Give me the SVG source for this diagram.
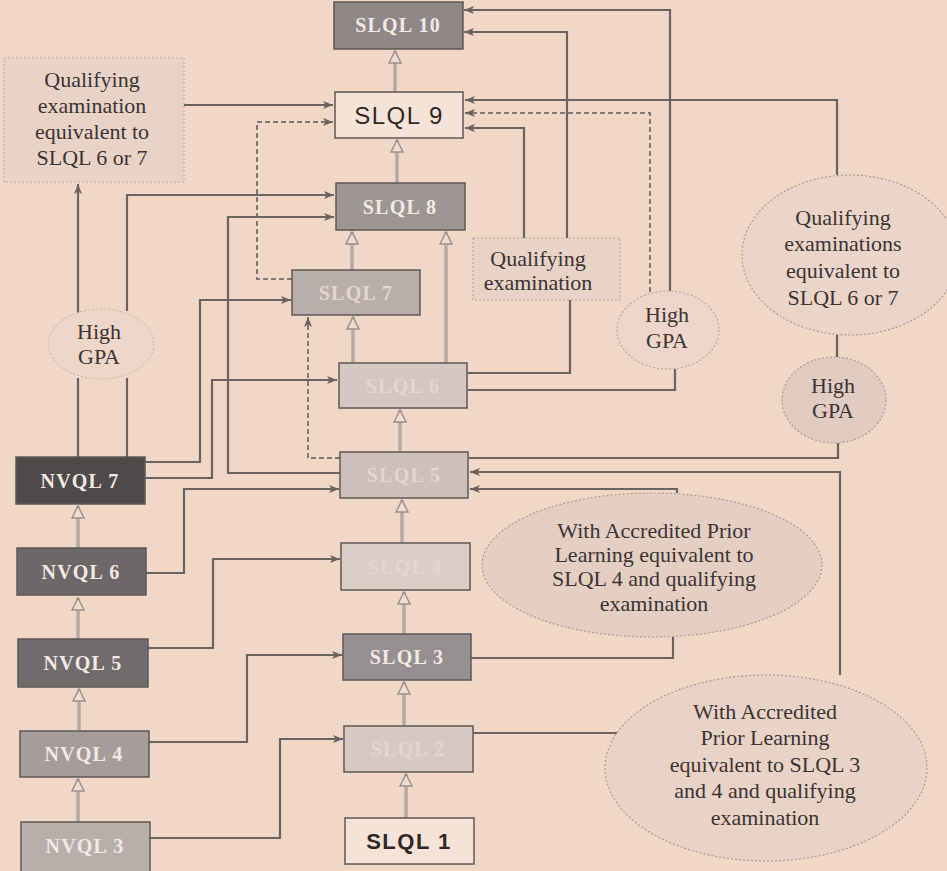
<svg xmlns="http://www.w3.org/2000/svg" width="947" height="871" viewBox="0 0 947 871">
<defs>
<style>
.ln{fill:none;stroke:#6a6361;stroke-width:2.2}
.dl{fill:none;stroke:#807876;stroke-width:2;stroke-dasharray:5 3}
.up{fill:none;stroke:#b5aaa5;stroke-width:3.5}
.box{stroke:#5d5856;stroke-width:1.5}
.lbl{font-family:"Liberation Serif",serif;font-weight:bold;font-size:20px;letter-spacing:1.2px;text-anchor:middle;fill:#f3e9e3}
.faint{font-family:"Liberation Serif",serif;font-weight:bold;font-size:20px;letter-spacing:1.2px;text-anchor:middle;fill:#e3d6cf}
.t{font-family:"Liberation Serif",serif;font-size:22px;text-anchor:middle;fill:#3b3434}
.sans{font-family:"Liberation Sans",Arial,sans-serif;text-anchor:middle;fill:#2e2828}
.ell{stroke:#a99c96;stroke-width:1.2;stroke-dasharray:2 2}
</style>
<marker id="ah" viewBox="0 0 10 8" refX="10" refY="4" markerWidth="11" markerHeight="8" markerUnits="userSpaceOnUse" orient="auto">
<path d="M0,0 L10,4 L0,8 L2.5,4 Z" fill="#6a6361"/>
</marker>
<marker id="hol" viewBox="0 0 14 14" refX="13" refY="7" markerWidth="14" markerHeight="14" markerUnits="userSpaceOnUse" orient="auto">
<path d="M1,1 L13,7 L1,13 Z" fill="#efdbcf" stroke="#9c928e" stroke-width="1.5"/>
</marker>
</defs>
<rect width="947" height="871" fill="#f1d7c6"/>

<g id="connectors">
<!-- vertical progression arrows -->
<path class="up" d="M395,92 V51" marker-end="url(#hol)"/>
<path class="up" d="M397,183 V140" marker-end="url(#hol)"/>
<path class="up" d="M352,270 V232" marker-end="url(#hol)"/>
<path class="up" d="M353,363 V317" marker-end="url(#hol)"/>
<path class="up" d="M446,363 V232" marker-end="url(#hol)"/>
<path class="up" d="M400,452 V410" marker-end="url(#hol)"/>
<path class="up" d="M402,543 V500" marker-end="url(#hol)"/>
<path class="up" d="M404,634 V592" marker-end="url(#hol)"/>
<path class="up" d="M404,726 V682" marker-end="url(#hol)"/>
<path class="up" d="M406,818 V774" marker-end="url(#hol)"/>
<path class="up" d="M78,822 V779" marker-end="url(#hol)"/>
<path class="up" d="M79,731 V689" marker-end="url(#hol)"/>
<path class="up" d="M78,639 V598" marker-end="url(#hol)"/>
<path class="up" d="M78,548 V506" marker-end="url(#hol)"/>
<!-- left side -->
<path class="ln" d="M184,105 H333" marker-end="url(#ah)"/>
<path class="dl" d="M292,279 H257 V122 H333" marker-end="url(#ah)"/>
<path class="ln" d="M127,311 V195 H334" marker-end="url(#ah)"/>
<path class="ln" d="M78,313 V184" marker-end="url(#ah)"/>
<path class="ln" d="M340,473 H228 V217 H334" marker-end="url(#ah)"/>
<path class="dl" d="M340,458 H308 V317" marker-end="url(#ah)"/>
<path class="ln" d="M145,462 H200 V300 H291" marker-end="url(#ah)"/>
<path class="ln" d="M145,478 H212 V380 H337" marker-end="url(#ah)"/>
<path class="ln" d="M146,573 H184 V489 H339" marker-end="url(#ah)"/>
<path class="ln" d="M148,648 H213 V559 H340" marker-end="url(#ah)"/>
<path class="ln" d="M149,742 H247 V655 H342" marker-end="url(#ah)"/>
<path class="ln" d="M150,838 H280 V739 H343" marker-end="url(#ah)"/>
<path class="ln" d="M78,457 V378 M127,457 V378"/>
<!-- right side -->
<path class="ln" d="M837,175 V100 H465" marker-end="url(#ah)"/>
<path class="dl" d="M650,292 V113 H465" marker-end="url(#ah)"/>
<path class="ln" d="M670,291 V10 H464" marker-end="url(#ah)"/>
<path class="ln" d="M567,238 V32 H464" marker-end="url(#ah)"/>
<path class="ln" d="M524,238 V128 H465" marker-end="url(#ah)"/>
<path class="ln" d="M468,373 H570 V300"/>
<path class="ln" d="M468,390 H675 V369"/>
<path class="ln" d="M469,458 H838 V443"/>
<path class="ln" d="M840,675 V472 H470" marker-end="url(#ah)"/>
<path class="ln" d="M677,493 V489 H470" marker-end="url(#ah)"/>
<path class="ln" d="M471,658 H673 V637"/>
<path class="ln" d="M473,733 H617"/>
<path class="ln" d="M837,335 V357"/>
</g>

<g id="slql10"><rect class="box" x="334" y="2" width="129" height="47" fill="#8f8886"/><text class="lbl" x="398" y="32">SLQL 10</text></g>
<g id="slql9"><rect class="box" x="335" y="92" width="128" height="46" fill="#f6e3d7"/><text class="sans" x="399" y="124" font-size="24" letter-spacing="1.5">SLQL 9</text></g>
<g id="slql8"><rect class="box" x="336" y="183" width="129" height="47" fill="#9d9693"/><text class="lbl" x="400" y="214">SLQL 8</text></g>
<g id="slql7"><rect class="box" x="292" y="270" width="128" height="45" fill="#b9aea9"/><text class="faint" x="356" y="300" fill="#c9beb9">SLQL 7</text></g>
<g id="slql6"><rect class="box" x="339" y="363" width="128" height="45" fill="#d4c7c0"/><text class="faint" x="403" y="393">SLQL 6</text></g>
<g id="slql5"><rect class="box" x="340" y="452" width="128" height="46" fill="#cdc0b9"/><text class="faint" x="404" y="482" fill="#b9aca6">SLQL 5</text></g>
<g id="slql4"><rect class="box" x="341" y="543" width="129" height="47" fill="#dbcec6"/><text class="faint" x="405" y="574">SLQL 4</text></g>
<g id="slql3"><rect class="box" x="343" y="634" width="128" height="46" fill="#979090"/><text class="lbl" x="407" y="664">SLQL 3</text></g>
<g id="slql2"><rect class="box" x="344" y="726" width="129" height="46" fill="#d6c9c1"/><text class="faint" x="408" y="756">SLQL 2</text></g>
<g id="slql1"><rect class="box" x="345" y="818" width="129" height="46" fill="#f6e3d7"/><text class="sans" x="409" y="849" font-size="22" font-weight="bold" letter-spacing="1.5">SLQL 1</text></g>

<g id="nvql7"><rect class="box" x="16" y="457" width="129" height="47" fill="#4f4a4a"/><text class="lbl" x="80" y="488">NVQL 7</text></g>
<g id="nvql6"><rect class="box" x="17" y="548" width="129" height="47" fill="#6d6767"/><text class="lbl" x="81" y="579">NVQL 6</text></g>
<g id="nvql5"><rect class="box" x="18" y="639" width="130" height="48" fill="#716b6b"/><text class="lbl" x="83" y="670">NVQL 5</text></g>
<g id="nvql4"><rect class="box" x="20" y="731" width="129" height="46" fill="#a59d99"/><text class="lbl" x="84" y="761" fill="#e7dcd6">NVQL 4</text></g>
<g id="nvql3"><rect class="box" x="21" y="822" width="129" height="52" fill="#b8afab"/><text class="lbl" x="85" y="853" fill="#dcd1cb">NVQL 3</text></g>

<g id="qe-left"><rect x="4" y="58" width="180" height="124" fill="#e9d3c6" stroke="#bcaca4" stroke-width="1.2" stroke-dasharray="2 2"/>
<text class="t" x="92" y="87">Qualifying</text><text class="t" x="92" y="113">examination</text><text class="t" x="92" y="139">equivalent to</text><text class="t" x="92" y="165">SLQL 6 or 7</text></g>

<g id="gpa-left"><ellipse cx="101" cy="344" rx="53" ry="35" fill="#eed6c9" stroke="#c3b4ad" stroke-width="1" stroke-dasharray="2 2"/>
<text class="t" x="99" y="339" font-size="20" fill="#5a5050">High</text><text class="t" x="99" y="364" font-size="20" fill="#5a5050">GPA</text></g>

<g id="qe-small"><rect x="473" y="238" width="147" height="62" fill="#e9d3c6" stroke="#b5a59e" stroke-width="1.2" stroke-dasharray="2 2"/>
<text class="t" x="538" y="266">Qualifying</text><text class="t" x="538" y="290">examination</text></g>

<g id="gpa-mid"><ellipse cx="668" cy="330" rx="51" ry="39" fill="#eed6ca" stroke="#b7a9a2" stroke-width="1.2" stroke-dasharray="2 2"/>
<text class="t" x="667" y="322" font-size="20">High</text><text class="t" x="667" y="348" font-size="20">GPA</text></g>

<g id="qe-right"><ellipse cx="850" cy="255" rx="108" ry="80" fill="#ebd4c8" class="ell"/>
<text class="t" x="843" y="225">Qualifying</text><text class="t" x="843" y="251">examinations</text><text class="t" x="843" y="278">equivalent to</text><text class="t" x="843" y="305">SLQL 6 or 7</text></g>

<g id="gpa-right"><ellipse cx="834" cy="400" rx="52" ry="43" fill="#e2ccc1" class="ell"/>
<text class="t" x="833" y="393">High</text><text class="t" x="833" y="418">GPA</text></g>

<g id="apl4"><ellipse cx="652" cy="565" rx="170" ry="72" fill="#e5cec2" class="ell"/>
<text class="t" x="654" y="538" font-size="21.5">With Accredited Prior</text><text class="t" x="654" y="562" font-size="21.5">Learning equivalent to</text><text class="t" x="654" y="586" font-size="21.5">SLQL 4 and qualifying</text><text class="t" x="654" y="611" font-size="21.5">examination</text></g>

<g id="apl34"><ellipse cx="766" cy="768" rx="161" ry="93" fill="#e9d2c6" class="ell"/>
<text class="t" x="765" y="719">With Accredited</text><text class="t" x="765" y="745">Prior Learning</text><text class="t" x="765" y="772">equivalent to SLQL 3</text><text class="t" x="765" y="798">and 4 and qualifying</text><text class="t" x="765" y="825">examination</text></g>
</svg>
